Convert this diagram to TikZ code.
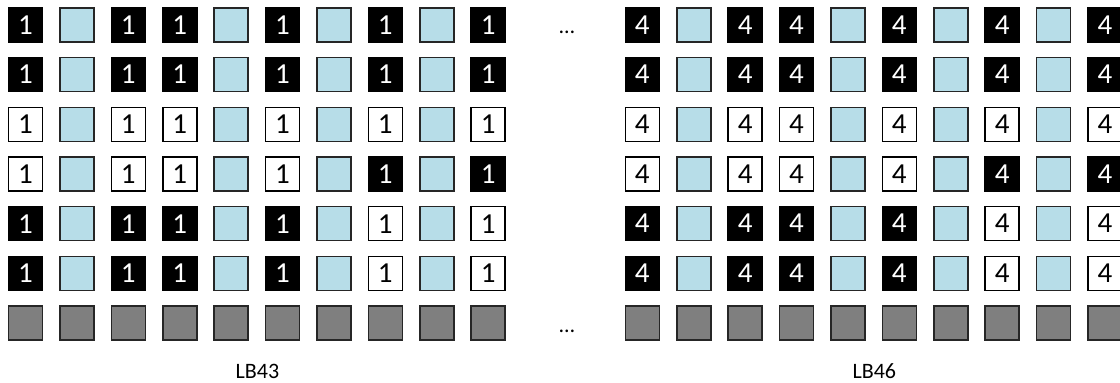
\documentclass[tikz,border=0pt]{standalone}
\usepackage{fontspec}
\setmainfont{Carlito}
\usetikzlibrary{positioning}

\definecolor{cellblue}{HTML}{B7DDE8}
\definecolor{cellgrey}{HTML}{7F7F7F}
\definecolor{celledge}{HTML}{262626}

\tikzset{
  cell/.style={draw=celledge,line width=0.8pt,minimum size=17pt,inner sep=0pt,
    font=\fontsize{14.5}{14.5}\selectfont},
  darkcell/.style={cell,fill=black,draw=black,text=white},
  litecell/.style={cell,fill=white,draw=black,text=black},
  bluecell/.style={cell,fill=cellblue},
  greycell/.style={cell,fill=cellgrey},
  grouplabel/.style={font=\fontsize{11}{11}\selectfont,anchor=base,inner sep=0pt},
}

\begin{document}
\begin{tikzpicture}[x=0.5pt,y=-0.5pt]
  \useasboundingbox (0,0) rectangle (1120,383);
  \foreach \g/\off/\val in {43/0/1,46/12/4} {
    % light blue columns
    \foreach \k in {1,4,6,8}
      \foreach \r in {0,...,5}
        \node[bluecell] (b\g-\r-\k) at ({25.5+51.4*(\k+\off)},{25+49.67*\r}) {};
    % columns with white rows 2 and 3
    \foreach \k in {0,2,3,5} {
      \foreach \r in {0,1,4,5}
        \node[darkcell] (b\g-\r-\k) at ({25.5+51.4*(\k+\off)},{25+49.67*\r}) {\val};
      \foreach \r in {2,3}
        \node[litecell] (b\g-\r-\k) at ({25.5+51.4*(\k+\off)},{25+49.67*\r}) {\val};
    }
    % columns with white rows 2, 4 and 5
    \foreach \k in {7,9} {
      \foreach \r in {0,1,3}
        \node[darkcell] (b\g-\r-\k) at ({25.5+51.4*(\k+\off)},{25+49.67*\r}) {\val};
      \foreach \r in {2,4,5}
        \node[litecell] (b\g-\r-\k) at ({25.5+51.4*(\k+\off)},{25+49.67*\r}) {\val};
    }
    % grey bottom row
    \foreach \k in {0,...,9}
      \node[greycell] (b\g-6-\k) at ({25.5+51.4*(\k+\off)},{25+49.67*6}) {};
    \node[grouplabel] (lb\g) at ({257.5+51.4*\off},379) {LB\g};
  }
  \node[grouplabel] (dotstop) at (567,34) {…};
  \node[grouplabel] (dotsbot) at (567,333) {…};
\end{tikzpicture}
\end{document}
